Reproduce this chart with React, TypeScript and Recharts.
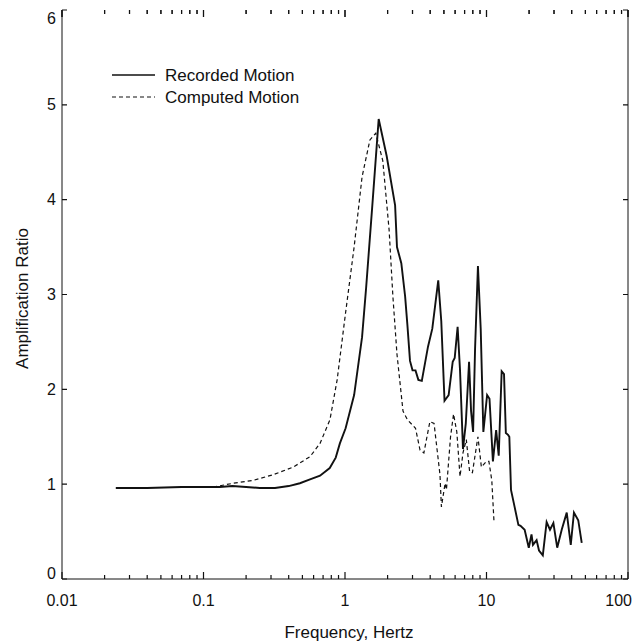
import React from 'react';
import { LineChart, Line, XAxis, YAxis, Legend, ReferenceLine } from 'recharts';

// Recorded motion (solid)
const recordedFreq = [
  0.024, 0.04, 0.07, 0.1, 0.13, 0.16, 0.2, 0.25, 0.32, 0.4, 0.48, 0.566, 0.666, 0.78, 0.86, 0.92,
  1.01, 1.16, 1.32, 1.41, 1.56, 1.73, 1.97, 2.26, 2.33, 2.5, 2.66, 2.76, 2.88, 3.0, 3.15, 3.3,
  3.49, 3.86, 4.14, 4.56, 4.79, 5.05, 5.4, 5.77, 5.96, 6.25, 6.5, 6.82, 7.14, 7.53, 7.78, 8.04,
  8.3, 8.7, 9.1, 9.5, 10.1, 10.5, 11.1, 11.7, 12.2, 12.8, 13.3, 13.7, 14.2, 14.5, 14.9, 15.8,
  16.8, 17.4, 18.6, 19.9, 20.8, 21.3, 22.6, 23.5, 25, 26.6, 28.1, 29.7, 31.6, 34, 36.9, 39.4,
  41.5, 44.5, 47.1,
];
const recordedAmp = [
  0.96, 0.96, 0.97, 0.97, 0.97, 0.98, 0.97, 0.96, 0.96, 0.98, 1.01, 1.05, 1.09, 1.17, 1.28, 1.43,
  1.59, 1.94, 2.55, 3.07, 3.94, 4.85, 4.46, 3.94, 3.5, 3.33, 2.98, 2.68, 2.3, 2.2, 2.2, 2.1,
  2.09, 2.45, 2.64, 3.15, 2.72, 1.88, 1.94, 2.29, 2.33, 2.66, 2.2, 1.37, 1.64, 2.29, 1.77, 1.55,
  2.42, 3.3, 2.64, 1.55, 1.94, 1.9, 1.24, 1.57, 1.3, 2.19, 2.16, 1.54, 1.52, 1.5, 0.94, 0.76,
  0.57, 0.56, 0.52, 0.33, 0.47, 0.36, 0.41, 0.3, 0.25, 0.6, 0.52, 0.59, 0.33, 0.52, 0.7, 0.36,
  0.7, 0.62, 0.38,
];

// Computed motion (dashed)
const computedFreq = [
  0.117, 0.163, 0.225, 0.311, 0.431, 0.566, 0.666, 0.783, 0.88, 1.01, 1.16, 1.32, 1.5, 1.65, 1.85,
  2.05, 2.18, 2.33, 2.57, 2.76, 3.15, 3.39, 3.61, 3.98, 4.26, 4.69, 4.8, 5.1, 5.21, 5.57, 5.85,
  6.17, 6.5, 6.82, 7.2, 7.6, 7.95, 8.7, 9.2, 10.0, 10.4, 10.9, 11.3,
];
const computedAmp = [
  0.97, 1.01, 1.04, 1.1, 1.18, 1.29, 1.43, 1.68, 2.1, 2.81, 3.5, 4.24, 4.63, 4.7, 4.41,
  3.68, 2.98, 2.37, 1.77, 1.68, 1.59, 1.36, 1.33, 1.66, 1.64, 1.1, 0.76, 1.01, 0.94, 1.5, 1.74,
  1.55, 1.08, 1.33, 1.47, 1.13, 1.12, 1.5, 1.18, 1.24, 1.24, 1.04, 0.6,
];

const xMajorTicks = [0.01, 0.1, 1, 10, 100];
const xMajorLabels = ['0.01', '0.1', '1', '10', '100'];
const yTicks = [0, 1, 2, 3, 4, 5, 6];

const recorded = recordedFreq.map((f, i) => ({ f, a: recordedAmp[i] }));
const computed = computedFreq.map((f, i) => ({ f, a: computedAmp[i] }));

// minor ticks 2..9 inside each decade
const xTicks: number[] = [];
xMajorTicks.forEach((m, i) => {
  xTicks.push(m);
  if (i < xMajorTicks.length - 1) {
    for (let k = 2; k <= 9; k++) xTicks.push(+(m * k).toPrecision(3));
  }
});

const FONT = '"Liberation Sans", Arial, Helvetica, sans-serif';
const INK = '#111';
const PLOT_TOP = 2;
const PLOT_H = 569;
const PLOT_W = 566;
const Y_MAX = 6;
// tick lengths in data units (inward tick marks)
const pxY = (px: number) => (px * Y_MAX) / PLOT_H;
const pxLogX = (px: number) => Math.pow(10, (px * 4) / PLOT_W);

const majorIndex = (v: number) => xMajorTicks.findIndex((m) => Math.abs(m - v) / m < 1e-6);
const tickLen = (v: number) => pxY(majorIndex(v) >= 0 ? 7 : 4);

// tick marks as short broken line segments (null breaks the path)
type Pt = { f: number; a: number | null };
const bottomMarks: Pt[] = xTicks.flatMap((f) => [
  { f, a: 0 },
  { f, a: tickLen(f) },
  { f, a: null },
]);
const topMarks: Pt[] = xTicks.flatMap((f) => [
  { f, a: Y_MAX },
  { f, a: Y_MAX - tickLen(f) },
  { f, a: null },
]);
const sideMarks: Pt[] = yTicks.flatMap((a) => [
  { f: 0.01, a },
  { f: 0.01 * pxLogX(5), a },
  { f: 0.01, a: null },
  { f: 100 / pxLogX(5), a },
  { f: 100, a },
  { f: 100, a: null },
]);

const BottomTick = (props: any) => {
  const { x, y, payload } = props;
  const i = majorIndex(payload.value);
  if (i < 0) return <g />;
  const last = i === xMajorTicks.length - 1;
  return (
    <text
      x={last ? x + 4 : x}
      y={y + 27}
      textAnchor={last ? 'end' : 'middle'}
      fontSize={16}
      fill={INK}
      fontFamily={FONT}
    >
      {xMajorLabels[i]}
    </text>
  );
};

const LeftTick = (props: any) => {
  const { x, y, payload } = props;
  const ly = Math.min(Math.max(y, PLOT_TOP + 8), PLOT_TOP + PLOT_H - 6);
  return (
    <text x={x - 6} y={ly} dy="0.35em" textAnchor="end" fontSize={16} fill={INK} fontFamily={FONT}>
      {payload.value}
    </text>
  );
};

const LegendBox = () => (
  <svg width={220} height={46}>
    <line x1={4} y1={12} x2={47} y2={12} stroke={INK} strokeWidth={1.6} />
    <text x={57} y={12} dy="0.35em" fontSize={17} fill={INK} fontFamily={FONT}>
      Recorded Motion
    </text>
    <line x1={4} y1={34} x2={47} y2={34} stroke={INK} strokeWidth={1.2} strokeDasharray="4 3" />
    <text x={57} y={34} dy="0.35em" fontSize={17} fill={INK} fontFamily={FONT}>
      Computed Motion
    </text>
  </svg>
);

export default function App() {
  const markLine = {
    dataKey: 'a',
    type: 'linear' as const,
    stroke: INK,
    strokeWidth: 1.2,
    dot: false,
    activeDot: false,
    legendType: 'none' as const,
    connectNulls: false,
    isAnimationActive: false,
  };
  return (
    <div style={{ fontFamily: FONT, background: '#fff' }}>
      <LineChart width={634} height={635} margin={{ top: PLOT_TOP, right: 0, bottom: 0, left: 0 }}>
        <XAxis
          dataKey="f"
          type="number"
          scale="log"
          domain={[0.01, 100]}
          ticks={xTicks}
          interval={0}
          tickSize={0}
          tickMargin={0}
          tickLine={false}
          tick={<BottomTick />}
          height={64}
          axisLine={{ stroke: INK }}
          label={({ viewBox }: any) => (
            <text
              x={viewBox.x + viewBox.width / 2 + 4}
              y={viewBox.y + 59}
              textAnchor="middle"
              fontSize={17}
              fill={INK}
              fontFamily={FONT}
            >
              Frequency, Hertz
            </text>
          )}
        />
        <XAxis
          xAxisId="top"
          orientation="top"
          type="number"
          scale="log"
          domain={[0.01, 100]}
          allowDataOverflow
          tick={false}
          tickLine={false}
          height={0}
          axisLine={{ stroke: '#555' }}
        />
        <YAxis
          type="number"
          domain={[0, Y_MAX]}
          ticks={yTicks}
          interval={0}
          tickSize={0}
          tickMargin={0}
          tickLine={false}
          tick={<LeftTick />}
          width={54}
          axisLine={{ stroke: INK }}
          label={({ viewBox }: any) => {
            const cx = 14;
            const cy = viewBox.y + viewBox.height / 2 + 4;
            return (
              <text
                x={cx}
                y={cy}
                dy="0.35em"
                transform={`rotate(-90 ${cx} ${cy})`}
                textAnchor="middle"
                fontSize={17}
                fill={INK}
                fontFamily={FONT}
              >
                Amplification Ratio
              </text>
            );
          }}
        />
        <YAxis
          yAxisId="right"
          orientation="right"
          type="number"
          domain={[0, Y_MAX]}
          tick={false}
          tickLine={false}
          width={14}
          axisLine={{ stroke: INK }}
        />
        {/* top ticks also as reference segments (these rendered before) */}
        {xTicks.map((v) => (
          <ReferenceLine
            key={`t${v}`}
            segment={[{ x: v, y: Y_MAX }, { x: v, y: Y_MAX - tickLen(v) }]}
            stroke={INK}
            strokeWidth={1.1}
            ifOverflow="visible"
          />
        ))}
        <Legend
          layout="horizontal"
          verticalAlign="middle"
          align="center"
          wrapperStyle={{ top: 55, left: 100, width: 220, height: 46 }}
          content={() => <LegendBox />}
        />
        <Line data={bottomMarks} name="bottom ticks" {...markLine} />
        <Line data={topMarks} name="top ticks" {...markLine} />
        <Line data={sideMarks} name="side ticks" {...markLine} />
        <Line
          data={computed}
          dataKey="a"
          name="Computed Motion"
          type="linear"
          stroke={INK}
          strokeWidth={1.2}
          strokeDasharray="4 3"
          dot={false}
          isAnimationActive={false}
        />
        <Line
          data={recorded}
          dataKey="a"
          name="Recorded Motion"
          type="linear"
          stroke={INK}
          strokeWidth={1.9}
          dot={false}
          isAnimationActive={false}
        />
      </LineChart>
    </div>
  );
}
